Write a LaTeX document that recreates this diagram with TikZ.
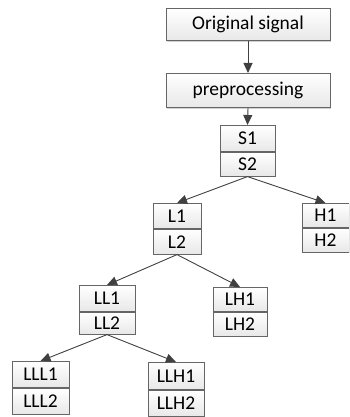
\documentclass[tikz,border=0pt]{standalone}
\usepackage{fontspec}
\setmainfont{Carlito}
\usetikzlibrary{arrows.meta,shadows}
\tikzset{
  cell/.style={draw=black!60, line width=0.8pt, top color=white, bottom color=black!9,
    inner sep=0pt, anchor=north, font=\fontsize{19.5}{22}\selectfont,
    drop shadow={shadow xshift=1.2pt, shadow yshift=-1.2pt, fill=black!30, opacity=0.6}},
  conn/.style={draw=black!75, line width=0.9pt, -{Triangle[length=10pt,width=9pt]}},
}
% \splitbox{name}{cx}{top}{width}{h1}{h2}{text1}{text2}
\newcommand{\splitbox}[8]{%
  \node[cell, minimum width=#4pt, minimum height=#5pt] (#11) at (#2,#3) {#7};
  \node[cell, minimum width=#4pt, minimum height=#6pt] (#12) at (#11.south) {#8};
}
\begin{document}
\begin{tikzpicture}[x=1pt,y=-1pt]
  \useasboundingbox (0,0) rectangle (349,417);
  \clip (0,0) rectangle (349,417);
  \node[cell, minimum width=164pt, minimum height=32pt] (orig) at (248,8) {Original signal};
  \node[cell, minimum width=164pt, minimum height=34pt] (pre) at (248,73) {preprocessing};
  \splitbox{s}{247.5}{125}{55}{26}{24}{S1}{S2}
  \splitbox{l}{177}{203}{48}{25}{25}{L1}{L2}
  \splitbox{h}{325.5}{203}{47}{24}{24}{H1}{H2}
  \splitbox{ll}{107}{285}{56}{26}{22}{LL1}{LL2}
  \splitbox{lh}{240}{287}{54}{24}{24}{LH1}{LH2}
  \splitbox{lll}{40.5}{361}{57}{26}{26}{LLL1}{LLL2}
  \splitbox{llh}{176}{362}{56}{27}{26}{LLH1}{LLH2}
  \draw[conn] (orig.south) -- (pre.north);
  \draw[conn] (pre.south) -- (s1.north);
  \draw[conn] (s2.south) -- (l1.north);
  \draw[conn] (s2.south) -- (h1.north);
  \draw[conn] (l2.south) -- (ll1.north);
  \draw[conn] (l2.south) -- (lh1.north);
  \draw[conn] (ll2.south) -- (lll1.north);
  \draw[conn] (ll2.south) -- (llh1.north);
\end{tikzpicture}
\end{document}
